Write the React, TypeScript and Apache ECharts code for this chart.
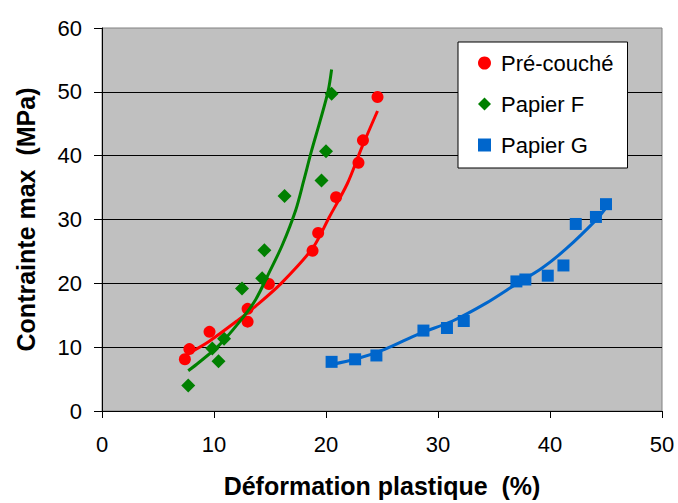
import React, { useEffect, useRef } from "react";
import * as echarts from "echarts";

// Scatter data
const preCoucheX = [7.4, 7.8, 9.6, 13.0, 13.0, 14.9, 18.8, 19.3, 20.9, 22.9, 23.3, 24.6];
const preCoucheY = [8.1, 9.7, 12.4, 16.0, 14.0, 19.9, 25.1, 27.9, 33.5, 38.9, 42.4, 49.2];

const papierFX = [7.7, 9.85, 10.4, 10.9, 12.5, 14.3, 14.5, 16.3, 19.6, 20.0, 20.5];
const papierFY = [4.0, 9.8, 7.8, 11.3, 19.2, 20.8, 25.2, 33.7, 36.1, 40.7, 49.7];

const papierGX = [20.5, 22.6, 24.5, 28.7, 30.8, 32.3, 37.0, 37.8, 39.8, 41.2, 42.3, 44.1, 45.0];
const papierGY = [7.7, 8.1, 8.7, 12.6, 13.0, 14.1, 20.3, 20.6, 21.2, 22.8, 29.3, 30.4, 32.4];

// Trend curves
const preCoucheTrendX = [7.6, 9.55, 12.2, 13.7, 16.0, 18.8, 20.3, 21.9, 23.2, 24.6];
const preCoucheTrendY = [8.9, 10.9, 14.3, 16.4, 20.0, 25.5, 30.4, 35.6, 41.3, 47.0];

const papierFTrendX = [7.7, 8.65, 10.4, 12.2, 13.7, 14.9, 16.1, 17.3, 18.0, 18.7, 19.5, 20.2, 20.5];
const papierFTrendY = [6.3, 7.6, 10.2, 13.8, 17.4, 21.6, 26.0, 31.5, 36.0, 40.7, 45.6, 50.2, 53.5];

const papierGTrendX = [20.5, 22.6, 25.3, 28.3, 31.3, 34.3, 36.9, 39.3, 41.5, 44.1, 44.9];
const papierGTrendY = [7.3, 8.1, 9.7, 12.1, 14.1, 16.9, 19.8, 22.4, 25.5, 29.9, 31.6];

const xTicks = { min: 0, max: 50, interval: 10 };
const yTicks = { min: 0, max: 60, interval: 10 };

const seriesNames = ["Pré-couché", "Papier F", "Papier G"];

const zip = (xs: number[], ys: number[]) => xs.map((x, i) => [x, ys[i]]);

const FONT = "'Liberation Sans', Arial, sans-serif";
const RED = "#FF0000";
const GREEN = "#008000";
const BLUE = "#0066CC";

export default function App() {
  const ref = useRef<HTMLDivElement>(null);

  useEffect(() => {
    if (!ref.current) return;
    const chart = echarts.init(ref.current, undefined, { renderer: "svg" });
    const trend = (name: string, xs: number[], ys: number[], color: string) => ({
      name,
      type: "line",
      data: zip(xs, ys),
      smooth: 0.3,
      showSymbol: false,
      symbol: "none",
      lineStyle: { color, width: 3 },
      z: 5,
      silent: true,
    });
    chart.setOption({
      animation: false,
      backgroundColor: "#FFFFFF",
      textStyle: { fontFamily: FONT },
      grid: {
        left: 102,
        top: 28,
        width: 560,
        height: 384,
        show: true,
        backgroundColor: "#C0C0C0",
        borderColor: "#808080",
        borderWidth: 1,
      },
      legend: {
        data: [
          { name: seriesNames[0], icon: "circle" },
          { name: seriesNames[1], icon: "diamond" },
          { name: seriesNames[2], icon: "rect" },
        ],
        orient: "vertical",
        left: 458,
        top: 42,
        backgroundColor: "#FFFFFF",
        borderColor: "#000000",
        borderWidth: 1,
        borderRadius: 0,
        padding: [10, 14, 12, 20],
        itemWidth: 13,
        itemHeight: 13,
        itemGap: 19,
        textStyle: { fontSize: 22, color: "#000", fontFamily: FONT, padding: [0, 0, 0, 5] },
      },
      xAxis: {
        type: "value",
        min: xTicks.min,
        max: xTicks.max,
        interval: xTicks.interval,
        name: "Déformation plastique  (%)",
        nameLocation: "middle",
        nameGap: 62,
        nameTextStyle: { fontSize: 25, fontWeight: "bold", color: "#000", fontFamily: FONT },
        axisLine: { show: true, onZero: false, lineStyle: { color: "#000", width: 1 } },
        axisTick: { show: true, inside: false, length: 7, lineStyle: { color: "#000" } },
        axisLabel: { fontSize: 22, color: "#000", margin: 22, fontFamily: FONT },
        splitLine: { show: false },
      },
      yAxis: {
        type: "value",
        min: yTicks.min,
        max: yTicks.max,
        interval: yTicks.interval,
        name: "Contrainte max  (MPa)",
        nameLocation: "middle",
        nameGap: 64,
        nameTextStyle: { fontSize: 25, fontWeight: "bold", color: "#000", fontFamily: FONT },
        axisLine: { show: true, onZero: false, lineStyle: { color: "#000", width: 1 } },
        axisTick: { show: true, inside: false, length: 8, lineStyle: { color: "#000" } },
        axisLabel: { fontSize: 22, color: "#000", margin: 20, fontFamily: FONT },
        splitLine: {
          show: true,
          showMinLine: false,
          showMaxLine: false,
          lineStyle: { color: "#000", width: 1 },
        },
      },
      series: [
        {
          name: seriesNames[0],
          type: "scatter",
          symbol: "circle",
          symbolSize: 12,
          itemStyle: { color: RED, opacity: 1 },
          data: zip(preCoucheX, preCoucheY),
          z: 3,
        },
        {
          name: seriesNames[1],
          type: "scatter",
          symbol: "diamond",
          symbolSize: 14,
          itemStyle: { color: GREEN, opacity: 1 },
          data: zip(papierFX, papierFY),
          z: 3,
        },
        {
          name: seriesNames[2],
          type: "scatter",
          symbol: "rect",
          symbolSize: 12,
          itemStyle: { color: BLUE, opacity: 1 },
          data: zip(papierGX, papierGY),
          z: 3,
        },
        trend("trend-pre", preCoucheTrendX, preCoucheTrendY, RED),
        trend("trend-f", papierFTrendX, papierFTrendY, GREEN),
        trend("trend-g", papierGTrendX, papierGTrendY, BLUE),
      ],
    });
    return () => chart.dispose();
  }, []);

  return (
    <div
      ref={ref}
      style={{ position: "fixed", left: 0, top: 0, width: 678, height: 503, background: "#fff" }}
    />
  );
}
